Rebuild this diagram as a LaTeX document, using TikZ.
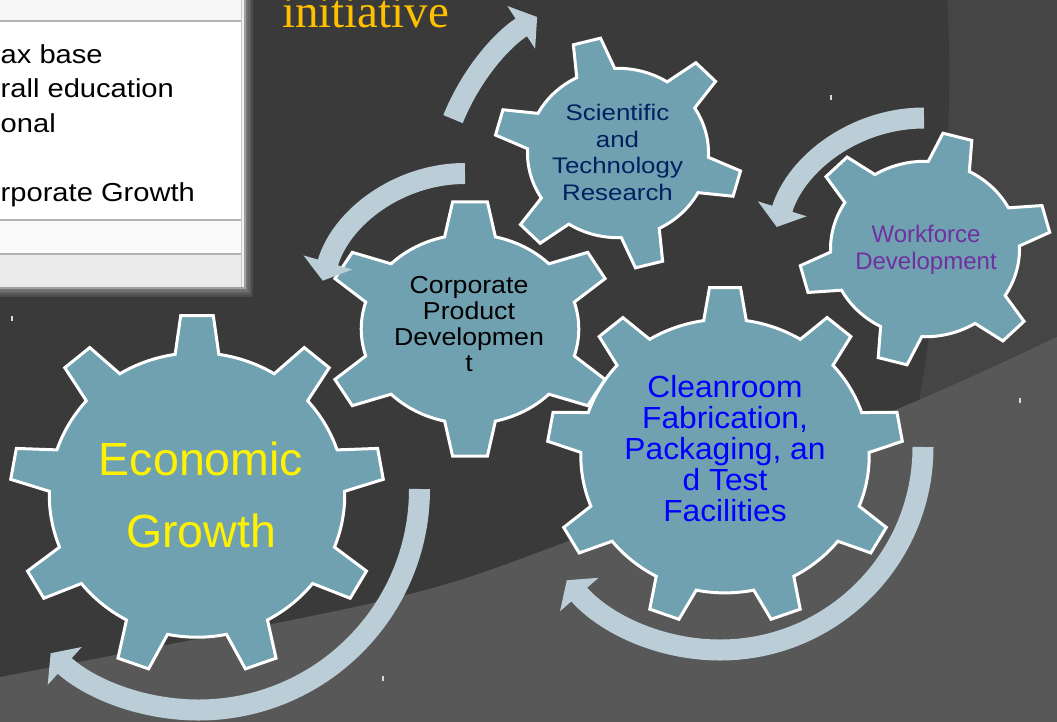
\documentclass[tikz,border=0pt]{standalone}
\usepackage{fontspec}
\setmainfont{Liberation Sans}
\newfontfamily\serifface{Liberation Serif}
\usetikzlibrary{arrows.meta}

\definecolor{bgdark}{HTML}{3A3A3A}
\definecolor{bgmid}{HTML}{454545}
\definecolor{bglight}{HTML}{585858}
\definecolor{gearfill}{HTML}{6FA1B1}
\definecolor{arrowfill}{HTML}{BBCED7}
\definecolor{gold}{HTML}{FFC000}
\definecolor{navy}{HTML}{002060}
\definecolor{plum}{HTML}{7030A0}

\tikzset{
  cogline/.style={fill=gearfill, draw=white, line width=3pt, line join=miter},
  turnarrow/.style={draw=arrowfill, line width=21pt, -{Triangle[width=50pt,length=19pt]}},
  cogtext/.style={inner sep=0pt, align=center, anchor=north},
}

% gear outline: centre x, centre y, x radius, y radius, teeth, angle of first tooth,
% root radius (fraction), half angle of tooth tip, half angle of tooth base
\newcommand\cogwheel[9]{%
  \begin{scope}[shift={(#1,#2)}, xscale=#3, yscale=#4]
    \pgfmathsetmacro\cogstep{360/#5}
    \draw[cogline] ({#6+#9}:#7)
      \foreach \k in {1,...,#5}{
        arc[start angle={#6+(\k-1)*\cogstep+#9}, end angle={#6+\k*\cogstep-#9}, radius=#7]
        -- ({#6+\k*\cogstep-#8}:1) -- ({#6+\k*\cogstep+#8}:1) -- ({#6+\k*\cogstep+#9}:#7)
      } -- cycle;
  \end{scope}}

\begin{document}
\begin{tikzpicture}[x=1pt, y=1pt]
\useasboundingbox (0,0) rectangle (1057,-721);
\clip (0,0) rectangle (1057,-721);

% backdrop
\fill[bgdark] (0,0) rectangle (1057,-721);
\fill[bgmid] (947,2) .. controls (954,-100) and (946,-250) .. (915,-425) -- (1065,-425) -- (1065,2) -- cycle;
\fill[bglight] plot[smooth] coordinates {(-5,-678) (377,-602) (550,-548) (900,-408) (1065,-333)}
  -- (1065,-730) -- (-5,-730) -- cycle;

% small specks
\foreach \mx/\my in {12/-318, 383/-678, 831/-97, 1020/-400}
  \fill[white!85!black] (\mx-0.75,\my-2.5) rectangle (\mx+0.75,\my+2.5);

% window panel with its soft shadow
\foreach \g in {1,...,5}
  \fill[black!35, opacity=0.16] (-10,5) rectangle ({245+1.6*\g},{-288-1.8*\g});
\fill[white!95!black] (-10,5) rectangle (245,-288);
\fill[white!97!black] (-10,5) rectangle (241,-21);
\fill[white] (-10,-22) rectangle (241,-220);
\fill[white!98!black] (-10,-220) rectangle (241,-254);
\fill[white!92!black] (-10,-254) rectangle (241,-288);
\draw[gray!60, line width=1.5pt] (-10,-21) -- (241,-21);
\draw[gray!60, line width=1.5pt] (-10,-220) -- (241,-220);
\draw[gray!60, line width=1.5pt] (-10,-254) -- (241,-254);
\draw[gray!45, line width=1pt] (241,5) -- (241,-288);
\draw[gray!75, line width=1.2pt] (-10,5) rectangle (245,-288);

\node[inner sep=0pt, align=left, anchor=north west,
      font=\fontsize{26}{34.5}\selectfont\addfontfeatures{FakeStretch=1.12}]
  (panelText) at (0.5,-44.4) {ax base\\rall education\\onal\\[34.5pt]rporate Growth};

\node[anchor=base west, inner sep=0pt, text=gold, font=\serifface\fontsize{47}{47}\selectfont]
  (initiativeText) at (282,-27) {initiative};

% gears
\cogwheel{197}{-495}{187}{180}{9}{90}{0.79}{5}{8.5}
\cogwheel{470}{-329}{147}{128}{6}{90}{0.74}{6.8}{13.5}
\cogwheel{618}{-153}{124}{116}{6}{104.6}{0.73}{6.5}{12.5}
\cogwheel{925}{-249}{126}{117}{6}{75}{0.75}{6.8}{13}
\cogwheel{725}{-456}{178}{169}{9}{90}{0.81}{5}{8.5}

% turning arrows
\coordinate (econTurn) at (419.5,-489);
\coordinate (cleanTurn) at (923,-447);
\coordinate (corpTurn) at (465,-173.5);
\coordinate (workTurn) at (924,-118);
\coordinate (sciTurn) at (453,-119.1);
\draw[turnarrow] (econTurn) arc[start angle=0, end angle=-132, radius=221];
\draw[turnarrow] (cleanTurn) arc[start angle=0, end angle=-139, radius=203];
\draw[turnarrow] (corpTurn) arc[start angle=90, end angle=164, radius=148];
\draw[turnarrow] (workTurn) arc[start angle=90, end angle=163, radius=154];
\draw[turnarrow] (sciTurn) arc[start angle=158, end angle=123, radius=220];

% gear captions
\node[cogtext, text=yellow, font=\fontsize{46.5}{72}\selectfont]
  (econText) at (201,-441.7) {Economic\\Growth};
\node[cogtext, text=blue, font=\fontsize{30.5}{31}\selectfont\addfontfeatures{FakeStretch=1.04}]
  (cleanText) at (725,-375.4) {Cleanroom\\Fabrication,\\Packaging, an\\d Test\\Facilities};
\node[cogtext, text=black, font=\fontsize{24.5}{26}\selectfont\addfontfeatures{FakeStretch=1.09}]
  (corpText) at (469,-275.9) {Corporate\\Product\\Developmen\\t};
\node[cogtext, text=navy, font=\fontsize{22.5}{26.5}\selectfont\addfontfeatures{FakeStretch=1.15}]
  (sciText) at (617.5,-104.3) {Scientific\\and\\Technology\\Research};
\node[cogtext, text=plum, font=\fontsize{24}{27}\selectfont]
  (workText) at (926,-225.4) {Workforce\\Development};
\end{tikzpicture}
\end{document}
